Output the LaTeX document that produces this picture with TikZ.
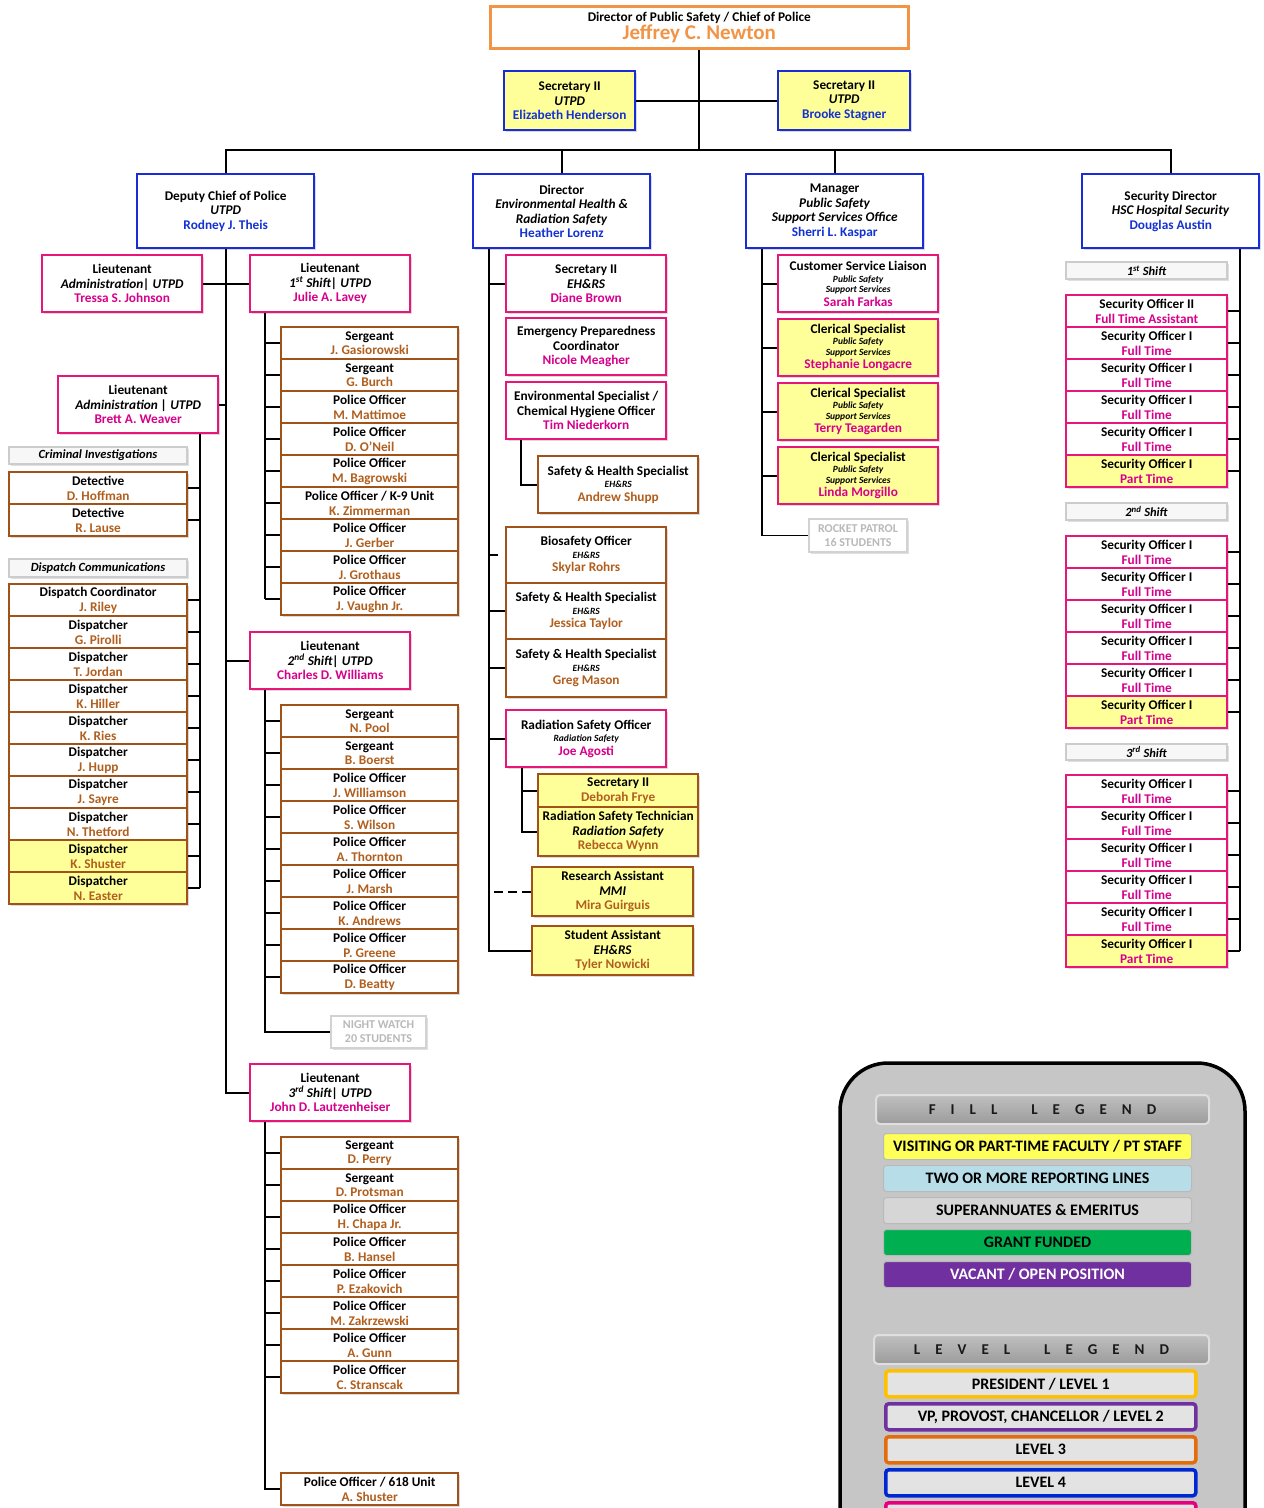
\documentclass[tikz,border=0pt]{standalone}
\usepackage{fontspec}
\setmainfont{Carlito}
\usetikzlibrary{positioning,shadows}

\definecolor{lvorange}{RGB}{242,148,70}
\definecolor{lvblue}{RGB}{25,45,215}
\definecolor{lvpink}{RGB}{232,22,120}
\definecolor{lvbrown}{RGB}{160,82,25}
\definecolor{ptyellow}{RGB}{255,255,153}
\definecolor{nmblue}{RGB}{20,50,210}
\definecolor{nmpink}{RGB}{215,0,140}
\definecolor{nmbrown}{RGB}{178,95,30}
\definecolor{lgyellow}{RGB}{255,255,90}
\definecolor{lgsky}{RGB}{183,222,232}
\definecolor{lggray}{RGB}{214,214,214}
\definecolor{lggreen}{RGB}{0,176,80}
\definecolor{lgpurple}{RGB}{112,48,160}
\definecolor{lggold}{RGB}{255,192,0}
\definecolor{lgorange}{RGB}{228,108,10}
\definecolor{lgblue}{RGB}{0,40,210}
\definecolor{lgmagenta}{RGB}{230,0,126}

\newcommand{\bname}[1]{\textcolor{nmblue}{#1}}
\newcommand{\pname}[1]{\textcolor{nmpink}{#1}}
\newcommand{\oname}[1]{\textcolor{nmbrown}{#1}}
\newcommand{\smit}[1]{{\fontsize{9.5}{11}\selectfont\itshape #1}}
\newcommand{\gp}{\hspace{15pt}}

\begin{document}
\begin{tikzpicture}[x=1pt,y=-1pt,every node/.style={inner sep=0pt,align=center}]
\tikzstyle{post}=[draw,line width=2.4pt,fill=white,anchor=north west,
  font=\bfseries\fontsize{13.3}{14.5}\selectfont,
  drop shadow={opacity=.3,shadow xshift=1.5pt,shadow yshift=-2pt}]
\tikzstyle{lvthree}=[post,draw=lvorange]
\tikzstyle{lvfour}=[post,draw=lvblue]
\tikzstyle{lvfive}=[post,draw=lvpink]
\tikzstyle{lvsix}=[post,draw=lvbrown]
\tikzstyle{ptfill}=[fill=ptyellow]
\tikzstyle{grouplabel}=[draw=gray!40,line width=2pt,fill=gray!6,anchor=north west,
  font=\bfseries\itshape\fontsize{12.5}{14}\selectfont,
  drop shadow={opacity=.25,shadow xshift=1.5pt,shadow yshift=-2pt}]
\tikzstyle{students}=[draw=gray!35,line width=2pt,fill=white,text=gray!55,anchor=north west,
  font=\bfseries\fontsize{12}{14}\selectfont,
  drop shadow={opacity=.25,shadow xshift=1.5pt,shadow yshift=-2pt}]
\tikzstyle{link}=[draw,line width=1.8pt]
\tikzstyle{lghead}=[draw=gray!25,line width=2pt,rounded corners=4pt,top color=gray!50,bottom color=gray!78,
  anchor=north west,text=black!90,font=\bfseries\fontsize{15}{17}\selectfont,minimum height=29pt]
\tikzstyle{lgitem}=[draw=gray!55,line width=1pt,rounded corners=3pt,anchor=north west,
  minimum width=308pt,minimum height=26pt,font=\bfseries\fontsize{16}{18}\selectfont]
\tikzstyle{lglevel}=[line width=3.5pt,rounded corners=3pt,fill=gray!22,anchor=north west,
  minimum width=310pt,minimum height=26pt,font=\bfseries\fontsize{16}{18}\selectfont]

\useasboundingbox (0,0) rectangle (1264,1508);
\clip (0,0) rectangle (1264,1508);

% trunk positions
\coordinate (bus) at (0,150);
\coordinate (tkBw) at (200,0);
\coordinate (tkOne) at (265,0);
\coordinate (tkEh) at (489,0);
\coordinate (tkEnv) at (521,0);
\coordinate (tkRso) at (522,0);
\coordinate (tkMgr) at (762,0);
\coordinate (tkHsc) at (1240,0);

% top of the chart
\node[lvthree,line width=2.6pt,minimum width=418pt,minimum height=42pt] (chief) at (489,5)
  {Director of Public Safety / Chief of Police\\[0pt]{\fontsize{21}{21}\selectfont\textcolor{lvorange}{Jeffrey C. Newton}}};
\node[lvfour,ptfill,minimum width=131pt,minimum height=59pt] (secA) at (503,70)
  {Secretary II\\\textit{UTPD}\\\bname{Elizabeth Henderson}};
\node[lvfour,ptfill,minimum width=132pt,minimum height=59pt] (secB) at (777,70)
  {Secretary II\\\textit{UTPD}\\\bname{Brooke Stagner}};

\node[lvfour,minimum width=177pt,minimum height=74pt] (dep) at (136,173)
  {Deputy Chief of Police\\\textit{UTPD}\\\bname{Rodney J. Theis}};
\node[lvfour,minimum width=177pt,minimum height=74pt] (ehrs) at (472,173)
  {Director\\\textit{Environmental Health \&}\\\textit{Radiation Safety}\\\bname{Heather Lorenz}};
\node[lvfour,minimum width=177pt,minimum height=74pt] (mgr) at (745,173)
  {Manager\\\textit{Public Safety}\\\textit{Support Services Office}\\\bname{Sherri L. Kaspar}};
\node[lvfour,minimum width=177pt,minimum height=74pt] (hsc) at (1081,173)
  {Security Director\\\textit{HSC Hospital Security}\\\bname{Douglas Austin}};

\draw[link] (chief.south) -- (chief.south |- bus);
\draw[link] (secA.east) -- (secB.west);
\draw[link] (dep.north) -- (dep.north |- bus) -| (hsc.north);
\draw[link] (ehrs.north) -- (ehrs.north |- bus);
\draw[link] (mgr.north) -- (mgr.north |- bus);

% police: lieutenants
\node[lvfive,minimum width=160pt,minimum height=57pt] (ltAdm) at (41,254)
  {Lieutenant\\\textit{Administration| UTPD}\\\pname{Tressa S. Johnson}};
\node[lvfive,minimum width=160pt,minimum height=57pt] (ltOne) at (249,254)
  {Lieutenant\\\textit{1\textsuperscript{st} Shift| UTPD}\\\pname{Julie A. Lavey}};
\node[lvfive,minimum width=160pt,minimum height=57pt] (ltBw) at (57,375)
  {Lieutenant\\\textit{Administration | UTPD}\\\pname{Brett A. Weaver}};
\node[lvfive,minimum width=160pt,minimum height=57pt] (ltTwo) at (249,631)
  {Lieutenant\\\textit{2\textsuperscript{nd} Shift| UTPD}\\\pname{Charles D. Williams}};
\node[lvfive,minimum width=160pt,minimum height=57pt] (ltThree) at (249,1063)
  {Lieutenant\\\textit{3\textsuperscript{rd} Shift| UTPD}\\\pname{John D. Lautzenheiser}};

\draw[link] (dep.south) -- (dep.south |- ltThree.west) -- (ltThree.west);
\draw[link] (ltAdm.east) -- (ltOne.west);
\draw[link] (ltBw.east) -- (ltBw.east -| dep.south);
\draw[link] (ltTwo.west) -- (ltTwo.west -| dep.south);

% administration
\node[grouplabel,minimum width=178pt,minimum height=17pt] (lblCrim) at (8,446) {Criminal Investigations};
\node[grouplabel,minimum width=178pt,minimum height=18pt] (lblDisp) at (8,558) {Dispatch Communications};
\foreach \t/\n [count=\i] in {Detective/D. Hoffman,Detective/R. Lause}{
  \node[lvsix,minimum width=178pt,minimum height=32pt] (det\i) at (8,{471+32*(\i-1)}) {\t\\\oname{\n}};
  \draw[link] (det\i.east) -- (det\i.east -| tkBw);
}
\foreach \t/\n/\f [count=\i] in {Dispatch Coordinator/J. Riley/white,Dispatcher/G. Pirolli/white,
  Dispatcher/T. Jordan/white,Dispatcher/K. Hiller/white,Dispatcher/K. Ries/white,Dispatcher/J. Hupp/white,
  Dispatcher/J. Sayre/white,Dispatcher/N. Thetford/white,Dispatcher/K. Shuster/ptyellow,Dispatcher/N. Easter/ptyellow}{
  \node[lvsix,fill=\f,minimum width=178pt,minimum height=32pt] (dsp\i) at (8,{583+32*(\i-1)}) {\t\\\oname{\n}};
  \draw[link] (dsp\i.east) -- (dsp\i.east -| tkBw);
}
\draw[link] (ltBw.south -| tkBw) -- (dsp10.east -| tkBw);

% 1st shift
\foreach \t/\n [count=\i] in {Sergeant/J. Gasiorowski,Sergeant/G. Burch,Police Officer/M. Mattimoe,
  Police Officer/D. O'Neil,Police Officer/M. Bagrowski,{Police Officer / K-9 Unit}/K. Zimmerman,
  Police Officer/J. Gerber,Police Officer/J. Grothaus,Police Officer/J. Vaughn Jr.}{
  \node[lvsix,minimum width=177pt,minimum height=32pt] (sa\i) at (280,{326+32*(\i-1)}) {\t\\\oname{\n}};
  \draw[link] (sa\i.west) -- (sa\i.west -| tkOne);
}
\draw[link] (ltOne.south -| tkOne) -- (sa9.west -| tkOne);

% 2nd shift
\foreach \t/\n [count=\i] in {Sergeant/N. Pool,Sergeant/B. Boerst,Police Officer/J. Williamson,
  Police Officer/S. Wilson,Police Officer/A. Thornton,Police Officer/J. Marsh,
  Police Officer/K. Andrews,Police Officer/P. Greene,Police Officer/D. Beatty}{
  \node[lvsix,minimum width=177pt,minimum height=32pt] (sb\i) at (280,{704+32*(\i-1)}) {\t\\\oname{\n}};
  \draw[link] (sb\i.west) -- (sb\i.west -| tkOne);
}
\node[students,minimum width=95pt,minimum height=32pt] (watch) at (330,1015) {NIGHT WATCH\\20 STUDENTS};
\draw[link] (ltTwo.south -| tkOne) |- (watch.west);

% 3rd shift
\foreach \t/\n [count=\i] in {Sergeant/D. Perry,Sergeant/D. Protsman,Police Officer/H. Chapa Jr.,
  Police Officer/B. Hansel,Police Officer/P. Ezakovich,Police Officer/M. Zakrzewski,
  Police Officer/A. Gunn,Police Officer/C. Stranscak}{
  \node[lvsix,minimum width=177pt,minimum height=32pt] (sc\i) at (280,{1136+32*(\i-1)}) {\t\\\oname{\n}};
  \draw[link] (sc\i.west) -- (sc\i.west -| tkOne);
}
\node[lvsix,minimum width=177pt,minimum height=32pt] (unit) at (280,1472) {Police Officer / 618 Unit\\\oname{A. Shuster}};
\draw[link] (ltThree.south -| tkOne) |- (unit.west);

% environmental health & radiation safety
\node[lvfive,minimum width=160pt,minimum height=57pt] (ehSec) at (505,254)
  {Secretary II\\\textit{EH\&RS}\\\pname{Diane Brown}};
\node[lvfive,minimum width=160pt,minimum height=57pt] (ehEpc) at (505,317)
  {Emergency Preparedness\\Coordinator\\\pname{Nicole Meagher}};
\node[lvfive,minimum width=160pt,minimum height=57pt] (ehEnv) at (505,381)
  {Environmental Specialist /\\Chemical Hygiene Officer\\\pname{Tim Niederkorn}};
\node[lvsix,minimum width=160pt,minimum height=57pt] (ehShupp) at (537,455)
  {Safety \& Health Specialist\\[-2pt]\smit{EH\&RS}\\[-1pt]\oname{Andrew Shupp}};
\node[lvsix,minimum width=160pt,minimum height=56pt] (ehBio) at (505,526)
  {Biosafety Officer\\[-2pt]\smit{EH\&RS}\\[-1pt]\oname{Skylar Rohrs}};
\node[lvsix,minimum width=160pt,minimum height=56pt] (ehTaylor) at (505,582)
  {Safety \& Health Specialist\\[-2pt]\smit{EH\&RS}\\[-1pt]\oname{Jessica Taylor}};
\node[lvsix,minimum width=160pt,minimum height=58pt] (ehMason) at (505,638)
  {Safety \& Health Specialist\\[-2pt]\smit{EH\&RS}\\[-1pt]\oname{Greg Mason}};
\node[lvfive,minimum width=160pt,minimum height=57pt] (ehRso) at (505,709)
  {Radiation Safety Officer\\[-2pt]\smit{Radiation Safety}\\[-1pt]\pname{Joe Agosti}};
\node[lvsix,ptfill,minimum width=160pt,minimum height=33pt] (ehFrye) at (537,773)
  {Secretary II\\\oname{Deborah Frye}};
\node[lvsix,ptfill,minimum width=160pt,minimum height=49pt] (ehWynn) at (537,806)
  {Radiation Safety Technician\\\textit{Radiation Safety}\\\oname{Rebecca Wynn}};
\node[lvsix,ptfill,minimum width=161pt,minimum height=49pt] (ehMira) at (531,866)
  {Research Assistant\\\textit{MMI}\\\oname{Mira Guirguis}};
\node[lvsix,ptfill,minimum width=161pt,minimum height=49pt] (ehTyler) at (531,925)
  {Student Assistant\\\textit{EH\&RS}\\\oname{Tyler Nowicki}};

\draw[link] (ehrs.south -| tkEh) |- (ehTyler.west);
\draw[link] (ehSec.west) -- (ehSec.west -| tkEh);
\draw[link] (ehBio.west -| tkEh) -- ++(9,0);
\draw[link] (ehTaylor.west) -- (ehTaylor.west -| tkEh);
\draw[link] (ehMason.west) -- (ehMason.west -| tkEh);
\draw[link] (ehRso.west) -- (ehRso.west -| tkEh);
\draw[link,dash pattern=on 9pt off 5pt] (ehMira.west) -- (ehMira.west -| tkEh);
\draw[link] (ehEnv.south -| tkEnv) |- (ehShupp.west);
\draw[link] (ehRso.south -| tkRso) |- (ehWynn.west);
\draw[link] (ehFrye.west) -- (ehFrye.west -| tkRso);

% public safety support services
\node[lvfive,minimum width=160pt,minimum height=57pt] (mgCsl) at (777,254)
  {Customer Service Liaison\\[-3pt]\smit{Public Safety}\\[-4pt]\smit{Support Services}\\[-1pt]\pname{Sarah Farkas}};
\foreach \n [count=\i] in {Stephanie Longacre,Terry Teagarden,Linda Morgillo}{
  \node[lvfive,ptfill,minimum width=160pt,minimum height=57pt] (mgCl\i) at (777,{318+64*(\i-1)})
    {Clerical Specialist\\[-3pt]\smit{Public Safety}\\[-4pt]\smit{Support Services}\\[-1pt]\pname{\n}};
  \draw[link] (mgCl\i.west) -- (mgCl\i.west -| tkMgr);
}
\node[students,minimum width=98pt,minimum height=33pt] (rocket) at (808,518) {ROCKET PATROL\\16 STUDENTS};
\draw[link] (mgr.south -| tkMgr) |- (rocket.west);
\draw[link] (mgCsl.west) -- (mgCsl.west -| tkMgr);

% hospital security
\node[grouplabel,minimum width=161pt,minimum height=17pt] (lblOne) at (1065,261) {1\textsuperscript{st} Shift};
\node[grouplabel,minimum width=161pt,minimum height=17pt] (lblTwo) at (1065,502) {2\textsuperscript{nd} Shift};
\node[grouplabel,minimum width=161pt,minimum height=16pt] (lblThree) at (1065,743) {3\textsuperscript{rd} Shift};
\node[lvfive,minimum width=161pt,minimum height=32pt] (hsA1) at (1065,294)
  {Security Officer II\\\pname{Full Time Assistant}};
\draw[link] (hsA1.east) -- (hsA1.east -| tkHsc);
\foreach \g/\y/\s in {A/294/2,B/535/1,C/774/1}{
  \foreach \i in {\s,...,6}{
    \ifnum\i=6 \def\sofill{ptyellow}\def\sotime{Part Time}\else\def\sofill{white}\def\sotime{Full Time}\fi
    \node[lvfive,fill=\sofill,minimum width=161pt,minimum height=32pt] (hs\g\i) at (1065,{\y+32*(\i-1)})
      {Security Officer I\\\pname{\sotime}};
    \draw[link] (hs\g\i.east) -- (hs\g\i.east -| tkHsc);
  }
}
\draw[link] (hsc.south -| tkHsc) -- (hsC6.east -| tkHsc);

% legend
\draw[line width=3.5pt,rounded corners=48pt,left color=gray!45,middle color=gray!22,right color=gray!45]
  (840,1063) rectangle (1245,1580);
\node[lghead,minimum width=333pt] (fillHead) at (875,1094)
  {F\gp I\gp L\gp L\hspace{34pt}L\gp E\gp G\gp E\gp N\gp D};
\foreach \c/\t/\k [count=\i] in {lgyellow/{VISITING OR PART-TIME FACULTY / PT STAFF}/black,
  lgsky/{TWO OR MORE REPORTING LINES}/black,lggray/{SUPERANNUATES \& EMERITUS}/black,
  lggreen/{GRANT FUNDED}/black,lgpurple/{VACANT / OPEN POSITION}/white}{
  \node[lgitem,fill=\c,text=\k] (fillItem\i) at (883,{1133+32*(\i-1)}) {\t};
}
\node[lghead,minimum width=335pt] (levelHead) at (873,1334)
  {L\gp E\gp V\gp E\gp L\hspace{34pt}L\gp E\gp G\gp E\gp N\gp D};
\foreach \c/\t [count=\i] in {lggold/{PRESIDENT / LEVEL 1},lgpurple/{VP, PROVOST, CHANCELLOR / LEVEL 2},
  lgorange/{LEVEL 3},lgblue/{LEVEL 4},lgmagenta/{}}{
  \node[lglevel,draw=\c] (levelItem\i) at (884,{1369+33*(\i-1)}) {\t};
}
\end{tikzpicture}
\end{document}
